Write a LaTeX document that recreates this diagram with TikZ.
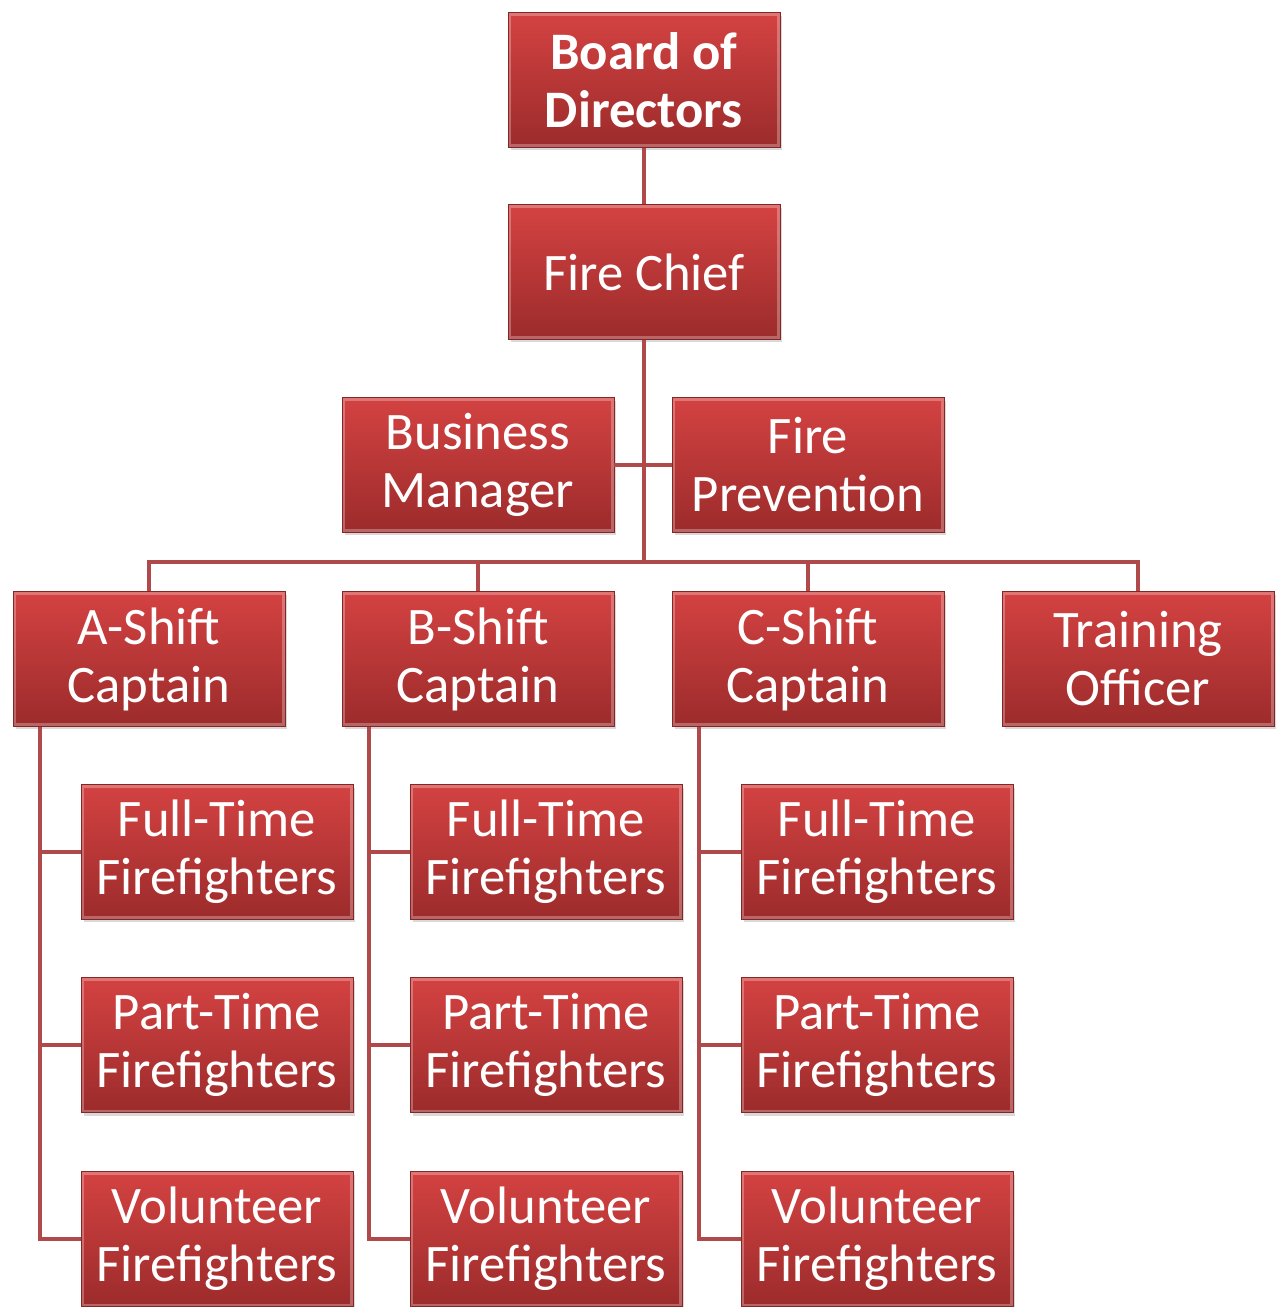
\documentclass[tikz,border=0pt]{standalone}
\usepackage{fontspec}
\setmainfont{Carlito}
\usetikzlibrary{calc,shadows}

\definecolor{boxtop}{HTML}{D44242}
\definecolor{boxbot}{HTML}{9C2B2B}
\definecolor{wirered}{HTML}{B04A4A}

\tikzset{
  orgbox/.style={rectangle,inner sep=0pt,minimum width=5.44cm,minimum height=2.7cm,
    top color=boxtop,bottom color=boxbot,draw=boxbot!85!black,line width=0.4pt,
    text=white,align=center,font=\fontsize{30}{33}\selectfont,
    drop shadow={shadow xshift=0.05cm,shadow yshift=-0.06cm,opacity=0.3},
    path picture={\draw[white,opacity=0.28,line width=0.12cm]
      (path picture bounding box.south west) rectangle (path picture bounding box.north east);}},
  wire/.style={draw=wirered,line width=0.08cm}
}

\begin{document}
\begin{tikzpicture}[x=0.02cm,y=-0.02cm]
\useasboundingbox (0,0) rectangle (1278,1307);
% top of the chart
\node[orgbox] (board) at (644,80) {\textbf{Board of}\\\textbf{Directors}};
\node[orgbox] (chief) at (644,272) {Fire Chief};
\node[orgbox] (business) at (478,465) {Business\\Manager};
\node[orgbox] (prevention) at (808,465) {Fire\\Prevention};
\node[orgbox] (training) at (1138,659) {Training\\Officer};
\coordinate (bus) at (644,562);
% the three shifts and their crews
\foreach \s/\x/\cx in {A/149/217,B/478/546,C/808/877} {
  \node[orgbox] (shift\s) at (\x,659) {\s-Shift\\Captain};
  \node[orgbox] (full\s) at (\cx,852) {Full-Time\\Firefighters};
  \node[orgbox] (part\s) at (\cx,1045) {Part-Time\\Firefighters};
  \node[orgbox] (vol\s) at (\cx,1239) {Volunteer\\Firefighters};
  \coordinate (drop\s) at ($(shift\s.south west)+(27,0)$);
  \draw[wire] (drop\s) |- (full\s.west);
  \draw[wire] (drop\s) |- (part\s.west);
  \draw[wire] (drop\s) |- (vol\s.west);
}
% connectors
\draw[wire] (board) -- (chief);
\draw[wire] (chief) -- (bus);
\draw[wire] (business) -- (prevention);
\draw[wire] (shiftA) |- (bus) -| (training);
\draw[wire] (shiftB) -- (shiftB |- bus);
\draw[wire] (shiftC) -- (shiftC |- bus);
\end{tikzpicture}
\end{document}
